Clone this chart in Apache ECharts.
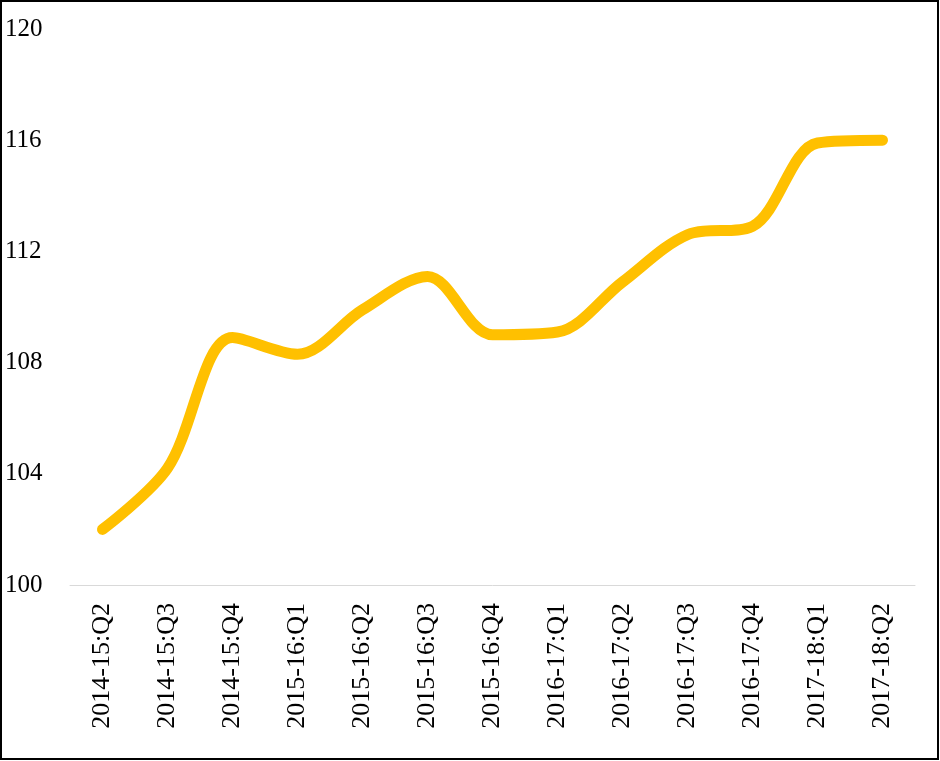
<!DOCTYPE html>
<html><head><meta charset="utf-8">
<script src="https://cdn.jsdelivr.net/npm/echarts@6/dist/echarts.min.js"></script>
<style>html,body{margin:0;padding:0;background:#fff}#c{width:940px;height:761px}</style>
</head><body><div id="c"></div>
<script>
const categories = ['2014-15:Q2','2014-15:Q3','2014-15:Q4','2015-16:Q1','2015-16:Q2','2015-16:Q3','2015-16:Q4','2016-17:Q1','2016-17:Q2','2016-17:Q3','2016-17:Q4','2017-18:Q1','2017-18:Q2'];
const values = [102.0, 104.2, 108.9, 108.3, 109.9, 111.1, 109.0, 109.1, 110.9, 112.6, 112.9, 115.9, 116.0];
const yMin = 100, yMax = 120, yStep = 4;

const chart = echarts.init(document.getElementById('c'));
chart.setOption({
  animation: false,
  backgroundColor: '#fff',
  grid: { left: 70, right: 25, top: 29, bottom: 176 },
  graphic: [{ type: 'rect', shape: { x: 1, y: 1, width: 937, height: 758 }, style: { fill: 'none', stroke: '#000', lineWidth: 2 }, z: 100 }],
  xAxis: {
    type: 'category', data: categories, boundaryGap: true,
    axisLine: { show: true, lineStyle: { color: '#d9d9d9', width: 1 } },
    axisTick: { show: false },
    axisLabel: { rotate: 90, interval: 0, margin: 18, color: '#000', fontFamily: 'Liberation Serif', fontSize: 26 }
  },
  yAxis: {
    type: 'value', min: yMin, max: yMax, interval: yStep,
    axisLine: { show: false }, axisTick: { show: false }, splitLine: { show: false },
    axisLabel: { align: 'left', margin: 65, color: '#000', fontFamily: 'Liberation Serif', fontSize: 25 }
  },
  series: [{
    type: 'line', data: values, smooth: 0.33, symbol: 'none',
    lineStyle: { color: '#FFC000', width: 11, cap: 'round', join: 'round' }
  }]
});
</script></body></html>
